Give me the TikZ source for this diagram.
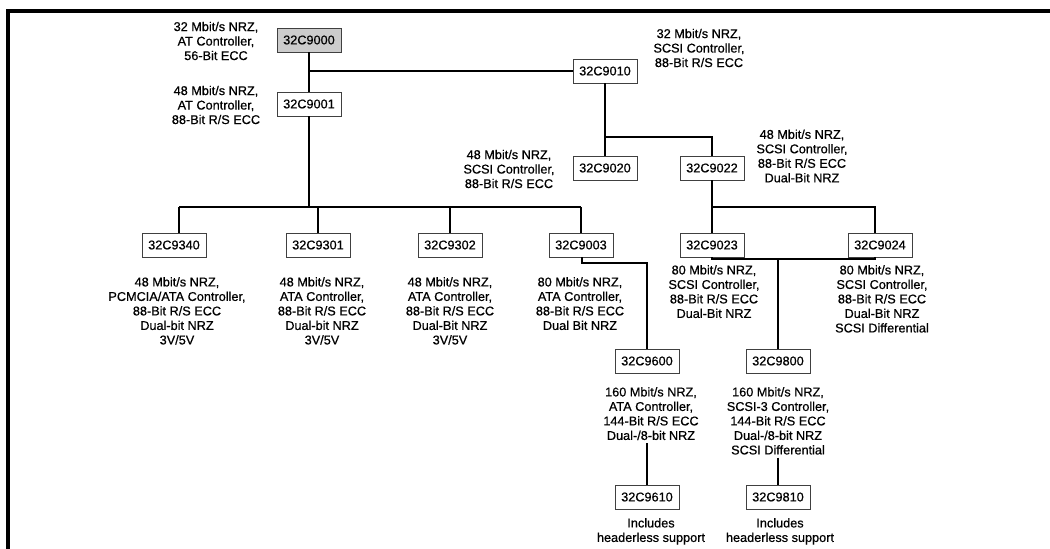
\documentclass[tikz,border=0pt]{standalone}
\usepackage{fontspec}
\setmainfont{Liberation Sans}[BoldFont=Liberation Sans, BoldFeatures={FakeBold=0.6}]
\begin{document}
\begin{tikzpicture}[x=1pt,y=-1pt,
  every node/.style={font=\fontsize{12.7}{14.5}\selectfont\bfseries},
  chip/.style={draw=black!75, line width=0.7pt, minimum width=64pt, minimum height=24pt, inner sep=0pt, fill=white},
  info/.style={align=center, inner sep=0pt},
  wire/.style={line width=1.3pt}]
\useasboundingbox (0,0) rectangle (1050,549);
\draw[line width=4pt] (8,549) -- (8,11) -- (1050,11);

% chips
\node[chip, fill=black!20] (n9000) at (309,40) {32C9000};
\node[chip] (n9001) at (309,104) {32C9001};
\node[chip] (n9010) at (605,71) {32C9010};
\node[chip] (n9020) at (605,168) {32C9020};
\node[chip] (n9022) at (712,168) {32C9022};
\node[chip] (n9340) at (174,245) {32C9340};
\node[chip] (n9301) at (318,245) {32C9301};
\node[chip] (n9302) at (450,245) {32C9302};
\node[chip] (n9003) at (581,245) {32C9003};
\node[chip] (n9023) at (712,245) {32C9023};
\node[chip] (n9024) at (880,245) {32C9024};
\node[chip] (n9600) at (647,361) {32C9600};
\node[chip] (n9800) at (778,361) {32C9800};
\node[chip] (n9610) at (647,497) {32C9610};
\node[chip] (n9810) at (778,497) {32C9810};

% labels
\node[info] (l9000) at (216,41) {32 Mbit/s NRZ,\\AT Controller,\\56-Bit ECC};
\node[info] (l9001) at (216,105) {48 Mbit/s NRZ,\\AT Controller,\\88-Bit R/S ECC};
\node[info] (l9010) at (699,48) {32 Mbit/s NRZ,\\SCSI Controller,\\88-Bit R/S ECC};
\node[info] (l9020) at (509,169) {48 Mbit/s NRZ,\\SCSI Controller,\\88-Bit R/S ECC};
\node[info] (l9022) at (802,156) {48 Mbit/s NRZ,\\SCSI Controller,\\88-Bit R/S ECC\\Dual-Bit NRZ};
\node[info, anchor=north] (l9340) at (177,277) {48 Mbit/s NRZ,\\PCMCIA/ATA Controller,\\88-Bit R/S ECC\\Dual-bit NRZ\\3V/5V};
\node[info, anchor=north] (l9301) at (322,277) {48 Mbit/s NRZ,\\ATA Controller,\\88-Bit R/S ECC\\Dual-bit NRZ\\3V/5V};
\node[info, anchor=north] (l9302) at (450,277) {48 Mbit/s NRZ,\\ATA Controller,\\88-Bit R/S ECC\\Dual-Bit NRZ\\3V/5V};
\node[info, anchor=north] (l9003) at (580,277) {80 Mbit/s NRZ,\\ATA Controller,\\88-Bit R/S ECC\\Dual Bit NRZ};
\node[info, anchor=north] (l9023) at (714,265) {80 Mbit/s NRZ,\\SCSI Controller,\\88-Bit R/S ECC\\Dual-Bit NRZ};
\node[info, anchor=north] (l9024) at (882,265) {80 Mbit/s NRZ,\\SCSI Controller,\\88-Bit R/S ECC\\Dual-Bit NRZ\\SCSI Differential};
\node[info, anchor=north] (l9600) at (651,387) {160 Mbit/s NRZ,\\ATA Controller,\\144-Bit R/S ECC\\Dual-/8-bit NRZ};
\node[info, anchor=north] (l9800) at (778,387) {160 Mbit/s NRZ,\\SCSI-3 Controller,\\144-Bit R/S ECC\\Dual-/8-bit NRZ\\SCSI Differential};
\node[info, anchor=north] (l9610) at (651,518) {Includes\\headerless support};
\node[info, anchor=north] (l9810) at (780,518) {Includes\\headerless support};

% connectors
\coordinate (j1) at (309,71);
\coordinate (bus) at (309,207);
\coordinate (busL) at (179,207);
\coordinate (j2) at (605,137);
\coordinate (j3) at (712,207);
\coordinate (j3r) at (875,207);
\coordinate (k1) at (712,259);
\coordinate (k2) at (875,259);
\coordinate (k3) at (778,259);
\coordinate (m1) at (582,263);
\coordinate (m2) at (647,263);

\draw[wire] (n9000) -- (n9001);
\draw[wire] (j1) -- (n9010.west);
\draw[wire] (n9001.south) -- (bus);
\draw[wire] (busL) -- (n9003.north |- bus);
\draw[wire] (busL) -- (busL |- n9340.north);
\draw[wire] (n9301.north |- bus) -- (n9301.north);
\draw[wire] (n9302.north |- bus) -- (n9302.north);
\draw[wire] (n9003.north |- bus) -- (n9003.north);

\draw[wire] (n9010.south) -- (n9020.north);
\draw[wire] (j2) -- (j2 -| n9022.north) -- (n9022.north);
\draw[wire] (n9022.south) -- (n9023.north);
\draw[wire] (j3) -- (j3r) -- (j3r |- n9024.north);
\draw[wire] (n9023.south) -- (k1) -- (k2) -- (k2 |- n9024.south);
\draw[wire] (k3) -- (n9800.north);
\draw[wire] (m1 |- n9003.south) -- (m1) -- (m2) -- (n9600.north);
\draw[wire, shorten <=3pt] (l9600.south -| n9610.north) -- (n9610.north);
\draw[wire, shorten <=3pt] (l9800.south -| n9810.north) -- (n9810.north);
\end{tikzpicture}
\end{document}
